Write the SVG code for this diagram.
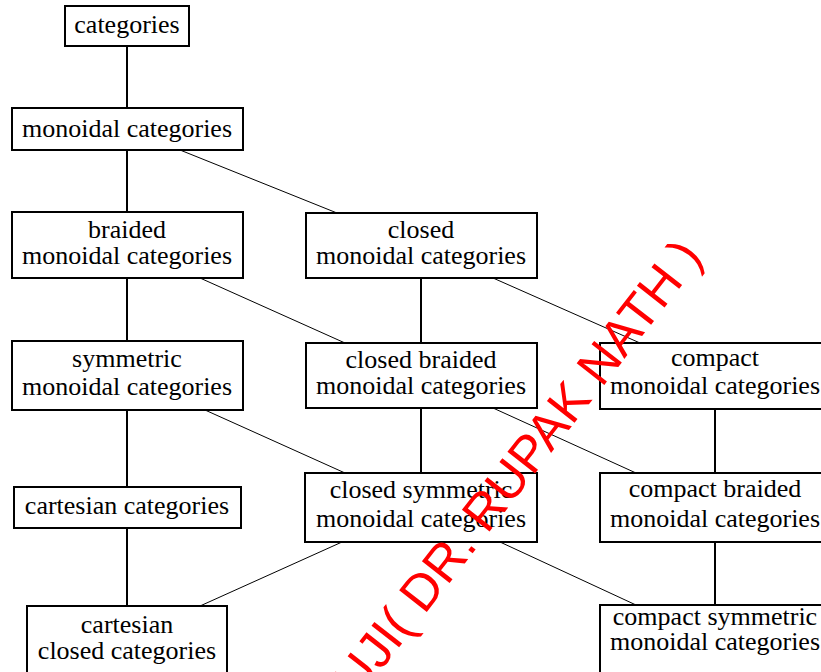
<svg xmlns="http://www.w3.org/2000/svg" width="821" height="672" viewBox="0 0 821 672">
<style>
.box{fill:#fff;stroke:#000;stroke-width:2}
.t{font-family:"Liberation Serif","Times New Roman",serif;font-size:26px;fill:#000;text-anchor:middle}
.v{stroke:#000;stroke-width:2;fill:none}
.d{stroke:#000;stroke-width:1;fill:none}
.wm{font-family:"Liberation Sans",Arial,sans-serif;font-size:51px;fill:#ff0000}
</style>
<rect width="821" height="672" fill="#fff"/>
<g id="connectors">
<line class="v" x1="127" y1="46" x2="127" y2="108"/>
<line class="v" x1="127" y1="150" x2="127" y2="212"/>
<line class="d" x1="180" y1="150" x2="337" y2="213"/>
<line class="v" x1="127" y1="278" x2="127" y2="341"/>
<line class="d" x1="200" y1="278" x2="345" y2="343"/>
<line class="v" x1="421" y1="278" x2="421" y2="343"/>
<line class="d" x1="493" y1="278" x2="640" y2="343"/>
<line class="v" x1="127" y1="410" x2="127" y2="487"/>
<line class="d" x1="205" y1="410" x2="345" y2="473"/>
<line class="v" x1="421" y1="408" x2="421" y2="473"/>
<line class="d" x1="493" y1="408" x2="636" y2="473"/>
<line class="v" x1="715" y1="409" x2="715" y2="473"/>
<line class="v" x1="127" y1="528" x2="127" y2="606"/>
<line class="d" x1="342" y1="542" x2="200" y2="606"/>
<line class="d" x1="500" y1="542" x2="636" y2="605"/>
<line class="v" x1="715" y1="542" x2="715" y2="605"/>
</g>
<g id="categories"><rect class="box" x="65" y="6" width="124" height="40"/><text class="t" x="127" y="32.5">categories</text></g>
<g id="monoidal"><rect class="box" x="12" y="108" width="231" height="42"/><text class="t" x="127" y="136.5">monoidal categories</text></g>
<g id="braided"><rect class="box" x="12" y="212" width="231" height="66"/><text class="t" x="127" y="237.5">braided</text><text class="t" x="127" y="263.5">monoidal categories</text></g>
<g id="closed"><rect class="box" x="306" y="213" width="231" height="65"/><text class="t" x="421" y="237.5">closed</text><text class="t" x="421" y="263.5">monoidal categories</text></g>
<g id="symmetric"><rect class="box" x="12" y="341" width="231" height="69"/><text class="t" x="127" y="367">symmetric</text><text class="t" x="127" y="395">monoidal categories</text></g>
<g id="closed-braided"><rect class="box" x="306" y="343" width="231" height="65"/><text class="t" x="421" y="368">closed braided</text><text class="t" x="421" y="393.5">monoidal categories</text></g>
<g id="compact"><rect class="box" x="600" y="343" width="232" height="66"/><text class="t" x="715" y="366">compact</text><text class="t" x="715" y="393.5">monoidal categories</text></g>
<g id="cartesian"><rect class="box" x="14" y="487" width="227" height="41"/><text class="t" x="127" y="513.5">cartesian categories</text></g>
<g id="closed-symmetric"><rect class="box" x="305" y="473" width="232" height="69"/><text class="t" x="421" y="498">closed symmetric</text><text class="t" x="421" y="527">monoidal categories</text></g>
<g id="compact-braided"><rect class="box" x="600" y="473" width="232" height="69"/><text class="t" x="715" y="497">compact braided</text><text class="t" x="715" y="527">monoidal categories</text></g>
<g id="cartesian-closed"><rect class="box" x="27" y="606" width="200" height="70"/><text class="t" x="127" y="633">cartesian</text><text class="t" x="127" y="658.5">closed categories</text></g>
<g id="compact-symmetric"><rect class="box" x="600" y="605" width="232" height="70"/><text class="t" x="715" y="625">compact symmetric</text><text class="t" x="715" y="650">monoidal categories</text></g>
<text class="wm" transform="translate(358,700) rotate(-52)">UJI( DR. RUPAK NATH )</text>
</svg>
